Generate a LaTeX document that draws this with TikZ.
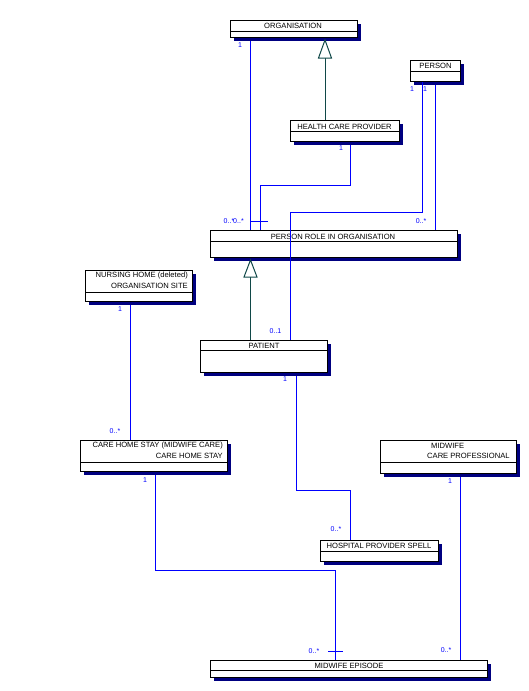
\documentclass[tikz,border=0pt]{standalone}
\usepackage{fontspec}
\setmainfont{Liberation Sans}
\usetikzlibrary{shadows,calc}
\definecolor{assoc}{RGB}{0,0,255}
\definecolor{shad}{RGB}{0,0,128}
\definecolor{gen}{RGB}{16,72,72}
\begin{document}
\begin{tikzpicture}[x=1pt,y=-1pt,
  cls/.style={draw=black, line width=1pt, fill=white, inner sep=0pt, anchor=north west,
    drop shadow={shadow xshift=3pt, shadow yshift=-3pt, fill=shad, opacity=1}},
  divider/.style={draw=black, line width=1pt},
  title/.style={font=\fontsize{7.6}{9}\selectfont, inner sep=0pt, text=black},
  mult/.style={font=\fontsize{7}{8}\selectfont, inner sep=0pt, text=assoc},
  assocline/.style={draw=assoc, line width=1pt},
  genline/.style={draw=gen, line width=1pt},
  gentri/.style={draw=gen, line width=1pt, fill=white, line join=miter}]
\useasboundingbox (0,0) rectangle (529,691);

% associations drawn below boxes
\draw[assocline] (250,37) -- (250,230);
\draw[assocline] (350,141) |- (260,185) -- (260,230);
\draw[assocline] (435,81) -- (435,230);
\draw[assocline] (130,301) -- (130,440);
\draw[assocline] (155,471) |- (335,570) -- (335,660);
\draw[assocline] (296,372) |- (350,490) -- (350,540);
\draw[assocline] (460,473) -- (460,660);
\draw[genline] (325,58) -- (325,120);
\draw[genline] (250.5,277) -- (250.5,340);

% classes
\node[cls, minimum width=127pt, minimum height=17pt] (org) at (230,20) {};
\node[cls, minimum width=50pt, minimum height=21pt] (person) at (410,60) {};
\node[cls, minimum width=109pt, minimum height=21pt] (hcp) at (290,120) {};
\node[cls, minimum width=247pt, minimum height=27pt] (prio) at (210,230) {};
\node[cls, minimum width=107pt, minimum height=31pt] (nursing) at (85,270) {};
\node[cls, minimum width=127pt, minimum height=32pt] (patient) at (200,340) {};
\node[cls, minimum width=147pt, minimum height=31pt] (chs) at (80,440) {};
\node[cls, minimum width=136pt, minimum height=33pt] (mcp) at (380,440) {};
\node[cls, minimum width=118pt, minimum height=21pt] (hps) at (320,540) {};
\node[cls, minimum width=277pt, minimum height=17pt] (mwe) at (210,660) {};

% dividers
\draw[divider] (org.west |- 0,31) -- (org.east |- 0,31);
\draw[divider] (person.west |- 0,71) -- (person.east |- 0,71);
\draw[divider] (hcp.west |- 0,131) -- (hcp.east |- 0,131);
\draw[divider] (prio.west |- 0,241) -- (prio.east |- 0,241);
\draw[divider] (nursing.west |- 0,292) -- (nursing.east |- 0,292);
\draw[divider] (patient.west |- 0,350) -- (patient.east |- 0,350);
\draw[divider] (chs.west |- 0,462) -- (chs.east |- 0,462);
\draw[divider] (mcp.west |- 0,462) -- (mcp.east |- 0,462);
\draw[divider] (hps.west |- 0,551) -- (hps.east |- 0,551);
\draw[divider] (mwe.west |- 0,670) -- (mwe.east |- 0,670);

% class names
\node[title] (orgname) at (293,26) {ORGANISATION};
\node[title] (personname) at (435.5,66) {PERSON};
\node[title] (hcpname) at (344.5,126.5) {HEALTH CARE PROVIDER};
\node[title] (prioname) at (333,236.5) {PERSON ROLE IN ORGANISATION};
\node[title, anchor=east] (nursname1) at (188,276) {NURSING HOME (deleted)};
\node[title, anchor=east] (nursname2) at (188,286) {ORGANISATION SITE};
\node[title] (patname) at (264,346) {PATIENT};
\node[title, anchor=east] (chsname1) at (223,446) {CARE HOME STAY (MIDWIFE CARE)};
\node[title, anchor=east] (chsname2) at (223,456) {CARE HOME STAY};
\node[title, anchor=west] (mcpname1) at (431,446) {MIDWIFE};
\node[title, anchor=west] (mcpname2) at (427,456) {CARE PROFESSIONAL};
\node[title] (hpsname) at (379,546) {HOSPITAL PROVIDER SPELL};
\node[title] (mwename) at (349,665.5) {MIDWIFE EPISODE};

% association drawn over PERSON ROLE IN ORGANISATION
\draw[assocline] (person.south -| 422,0) |- (290,212) -- (patient.north -| 290,0);

% generalisation triangles
\draw[gentri] (325,40) -- (331.5,58) -- (318.5,58) -- cycle;
\draw[gentri] (250.5,260) -- (257,277) -- (244,277) -- cycle;

% ticks
\draw[assocline] (250,221) -- (268,221);
\draw[assocline] (328,651) -- (343,651);

% multiplicities
\node[mult] (m1) at (240,45) {1};
\node[mult] (m2) at (412,89) {1};
\node[mult] (m3) at (425,89) {1};
\node[mult] (m4) at (341,148.5) {1};
\node[mult] (m5) at (229,221) {0..*};
\node[mult] (m6) at (238.5,221) {0..*};
\node[mult] (m7) at (421,221) {0..*};
\node[mult] (m8) at (275.5,331) {0..1};
\node[mult] (m9) at (285,379) {1};
\node[mult] (m10) at (120,309) {1};
\node[mult] (m11) at (115,431) {0..*};
\node[mult] (m12) at (145,480) {1};
\node[mult] (m13) at (336,529) {0..*};
\node[mult] (m14) at (450,481) {1};
\node[mult] (m15) at (314,651) {0..*};
\node[mult] (m16) at (446,650) {0..*};
\end{tikzpicture}
\end{document}
